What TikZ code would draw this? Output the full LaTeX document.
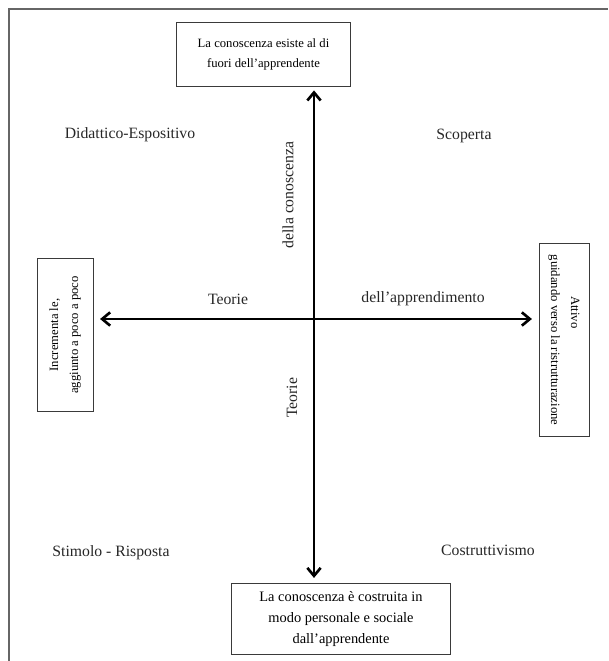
\documentclass[tikz,border=0pt]{standalone}
\usepackage{fontspec}
\setmainfont{Liberation Serif}
\usetikzlibrary{positioning, arrows.meta}
\definecolor{frameGray}{HTML}{666666}
\definecolor{boxDark}{HTML}{3A3A3A}

\begin{document}
\begin{tikzpicture}[
    x=0.75pt, y=-0.75pt,
    >={Straight Barb[length=6pt, width=10pt]},
    % --- Stili ---
    base/.style={font=\fontsize{9.5}{15}\selectfont, text=black},
    polo/.style={base, draw=boxDark, line width=0.6pt, align=center, inner sep=2pt},
    etichetta/.style={font=\fontsize{11.8}{14}\selectfont, text=black!85, inner sep=1pt},
    asse/.style={<->, line width=2pt, black},
    cornice/.style={frameGray, line width=1.5pt}
]
\useasboundingbox (0,0) rectangle (608,661);

% ====== Cornice ======
\draw[cornice] (9,661) -- (9,9) -- (608,9);

% ====== Poli degli assi ======
\coordinate (O) at (314,319);

\node[polo, minimum width=130pt, minimum height=48pt] (alto) at (263.5,54)
    {La conoscenza esiste al di\\fuori dell'apprendente};
\node[polo, font=\fontsize{10.8}{15.4}\selectfont, minimum width=164pt, minimum height=53pt] (basso) at (341,619)
    {La conoscenza è costruita in\\modo personale e sociale\\dall'apprendente};
\node[polo, rotate=90, minimum width=115pt, minimum height=42pt] (sinistra) at (65,335)
    {Incrementa le,\\aggiunto a poco a poco};
\node[polo, rotate=-90, align=left, minimum width=145pt, minimum height=37.5pt] (destra) at (564,340)
    {\hspace*{31pt}Attivo\\guidando verso la ristrutturazione};

% ====== Assi ======
\draw[asse, shorten <=3pt, shorten >=4pt] (alto.south -| O) -- (basso.north -| O);
\draw[asse, shorten <=5pt, shorten >=5pt] (O -| sinistra.south) -- (O -| destra.south);

% --- Etichette degli assi ---
\node[etichetta] (teorieA) at (228,299) {Teorie};
\node[etichetta] (apprend) at (423,299) {dell'apprendimento};
\node[etichetta, rotate=90] (conosc) at (288,195) {della conoscenza};
\node[etichetta, rotate=90] (teorieC) at (292,398) {Teorie};

% ====== Quadranti ======
\node[etichetta] (didattico) at (130,135) {Didattico-Espositivo};
\node[etichetta] (scoperta) at (464,136) {Scoperta};
\node[etichetta] (stimolo) at (111,553) {Stimolo - Risposta};
\node[etichetta] (costrutt) at (488,550) {Costruttivismo};

\end{tikzpicture}
\end{document}
